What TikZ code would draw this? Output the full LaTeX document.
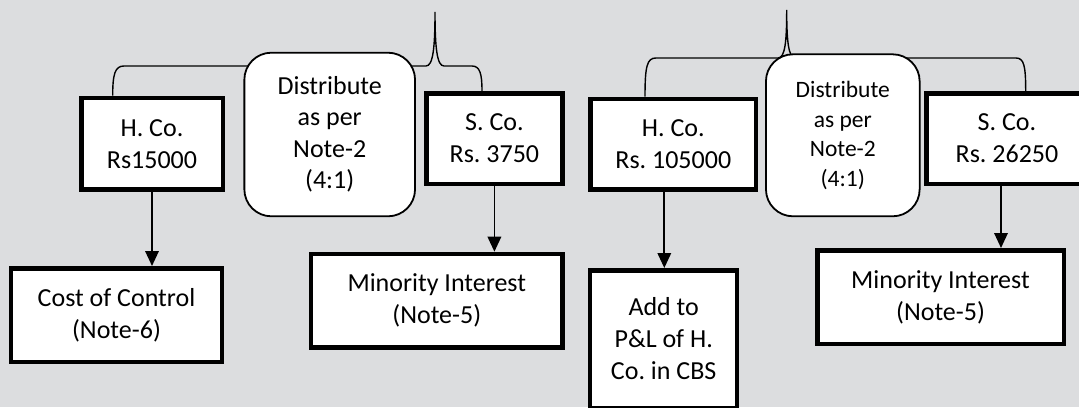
\documentclass[tikz,border=0pt]{standalone}
\usepackage{fontspec}
\setmainfont{Carlito}
\usepackage{tikz}
\usetikzlibrary{arrows.meta}
\frenchspacing

\definecolor{bgcol}{RGB}{220,221,223}
\tikzset{
    kbox/.style={draw, line width=4.5pt, fill=white, align=center, inner sep=0pt, font=\fontsize{26}{32}\selectfont},
    dbox/.style={draw, line width=1.8pt, fill=white, rounded corners=27pt, align=center, inner sep=0pt, font=\fontsize{26}{31.5}\selectfont},
    brace/.style={line width=1.4pt},
    arr/.style={line width=1.8pt, -{Triangle[length=15pt,width=13.5pt]}}
}

\begin{document}
\begin{tikzpicture}[x=1pt, y=-1pt]
    \path[use as bounding box, fill=bgcol] (0,0) rectangle (1079,407);
    \clip (0,0) rectangle (1079,407);
    \node[kbox, minimum width=141.5pt, minimum height=91.5pt] (H1) at (152,143.7) {H. Co.\\Rs15000};
    \node[kbox, minimum width=136.3pt, minimum height=90.5pt] (S1) at (494.4,138.5) {S. Co.\\Rs. 3750};
    \node[kbox, minimum width=165.5pt, minimum height=90.5pt] (H2) at (673.3,144.2) {H. Co.\\Rs. 105000};
    \node[kbox, minimum width=161.5pt, minimum height=90.5pt] (S2) at (1007,138.5) {S. Co.\\Rs. 26250};
    \coordinate (T1) at (435,12);
    \coordinate (T2) at (786.7,10);
    % braces go under the rounded boxes
    \draw[brace] ([xshift=-39.3pt]H1.north) .. controls (112.7,74) and (115,66) .. (124,66)
        -- (426,66) .. controls (433,66) and (435,48) .. (T1)
        .. controls (435,48) and (437,66) .. (444,66)
        -- (472,66) .. controls (480,66) and (482,74) .. ([xshift=-12.4pt]S1.north);
    \draw[brace] ([xshift=-28.3pt]H2.north) .. controls (645,66) and (647,58) .. (656,58)
        -- (778,58) .. controls (785,58) and (786.7,42) .. (T2)
        .. controls (786.7,42) and (788.5,58) .. (795.5,58)
        -- (1016,58) .. controls (1024,58) and (1025.7,66) .. ([xshift=18.7pt]S2.north);
    \node[dbox, minimum width=170.7pt, minimum height=163.6pt] (D1) at (329.7,134.5) {Distribute\\as per\\Note-2\\(4:1)};
    \node[dbox, font=\fontsize{23.5}{29.5}\selectfont, minimum width=153.7pt, minimum height=162pt] (D2) at (842.8,135.3) {Distribute\\as per\\Note-2\\(4:1)};
    \node[kbox, minimum width=211.4pt, minimum height=93.5pt] (CC) at (116.5,315) {Cost of Control\\(Note-6)};
    \node[kbox, minimum width=251.4pt, minimum height=93.5pt] (M1) at (436.8,300.7) {Minority Interest\\(Note-5)};
    \node[kbox, minimum width=147pt, minimum height=137.5pt] (PL) at (663.7,339) {Add to\\P\&L of H.\\Co. in CBS};
    \node[kbox, minimum width=246.5pt, minimum height=93.5pt] (M2) at (940.5,297) {Minority Interest\\(Note-5)};
    \draw[arr] (H1.south) -- (H1.south |- CC.north);
    \draw[arr] (S1.south) -- (S1.south |- M1.north);
    \draw[arr] ([xshift=-9pt]H2.south) -- ([xshift=-9pt]H2.south |- PL.north);
    \draw[arr] ([xshift=-6pt]S2.south) -- ([xshift=-6pt]S2.south |- M2.north);
\end{tikzpicture}
\end{document}
